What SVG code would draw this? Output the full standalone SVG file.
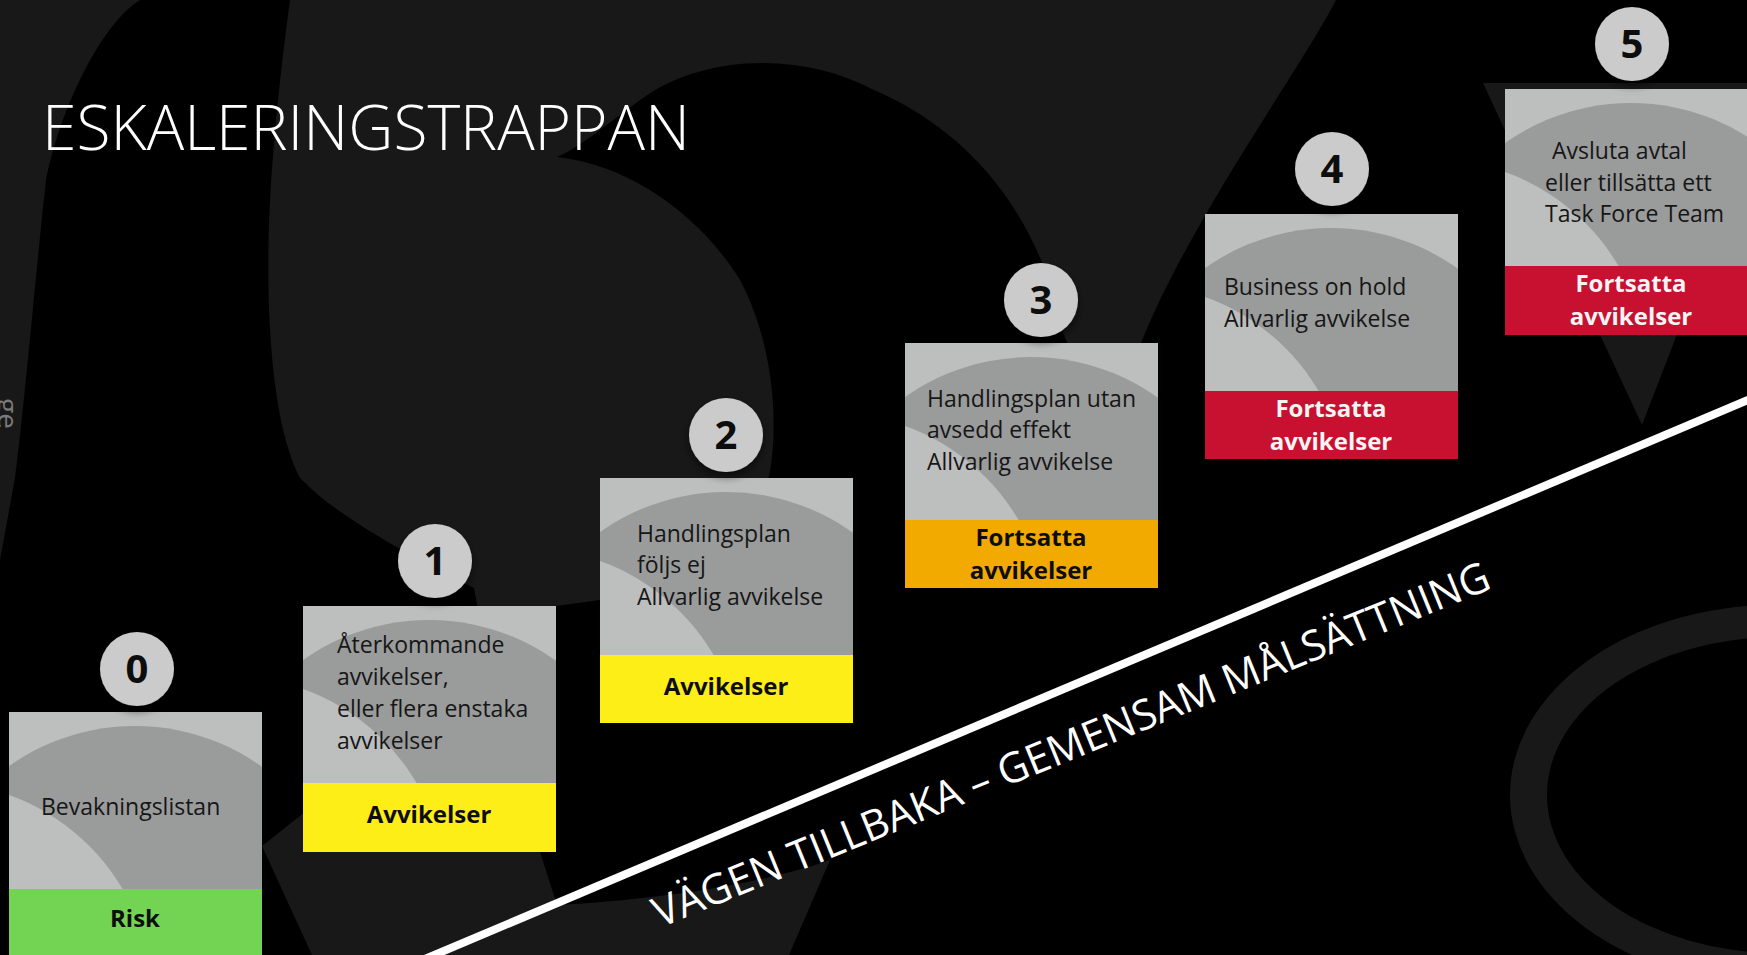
<svg xmlns="http://www.w3.org/2000/svg" xmlns:xlink="http://www.w3.org/1999/xlink" width="1747" height="955" viewBox="0 0 1747 955">
  <style>
    .bgshape { fill: #181818; }
    .circ { fill: #cbcbcb; filter: url(#shadow); }
    .num { font-family: "Open Sans", "Liberation Sans", sans-serif; font-weight: 700; font-size: 40px; fill: #0d0d0d; text-anchor: middle; }
    .body { font-family: "Open Sans", "Liberation Sans", sans-serif; font-size: 23px; fill: #161616; }
    .lbl { font-family: "Open Sans", "Liberation Sans", sans-serif; font-weight: 700; font-size: 24px; fill: #0d0d0d; text-anchor: middle; }
    .lblw { fill: #f4f4f4; }
    .green { fill: #73d454; }
    .yellow { fill: #feee17; }
    .orange { fill: #f3aa00; }
    .red { fill: #c81030; }
  </style>
  <defs>
    <filter id="shadow" x="-40%" y="-40%" width="180%" height="190%">
      <feDropShadow dx="0" dy="5" stdDeviation="4" flood-color="#000" flood-opacity="0.55"/>
    </filter>
    <symbol id="cardbg" viewBox="0 0 253 177">
      <rect width="253" height="177" fill="#bdbebe"/>
      <circle cx="126" cy="232" r="218" fill="#9a9b9b"/>
      <circle cx="-74" cy="288" r="218" fill="#bdbebe"/>
    </symbol>
  </defs>

  <rect width="1747" height="955" fill="#000"/>

  <g id="background">
    <path class="bgshape" d="M0,0 L140,0 C100,25 60,110 46,180 C35,280 25,400 15,478 L0,560 Z"/>
    <path class="bgshape" d="M290,0 L1336,0 C1300,70 1190,220 1141,343 L1110,440 L1063,333 C1045,240 990,140 874,90 C800,50 700,55 640,100 C600,130 575,150 557,157 C630,165 700,215 740,280 C772,340 780,420 769,477 L700,560 L600,600 L556,606 L540,852 L557,905 C650,900 760,885 830,860 L789,955 L312,955 L262,846 L320,800 L480,620 L474,588 C420,560 340,520 300,478 C270,420 265,300 270,200 C275,120 282,60 290,0 Z"/>
    <path class="bgshape" d="M1483,83 L1774,83 L1642,425 Z"/>
    <path class="bgshape" fill-rule="evenodd" d="M1510,795 A265,190 0 1,0 2040,795 A265,190 0 1,0 1510,795 Z M1547,795 A232,158 0 1,0 2011,795 A232,158 0 1,0 1547,795 Z"/>
    <text transform="translate(-2,398) rotate(90)" font-family="Open Sans, Liberation Sans, sans-serif" font-size="28" fill="#7a7a7a">ge</text>
  </g>

  <g id="title">
    <text x="42" y="150" font-family="Open Sans, Liberation Sans, sans-serif" font-weight="300" font-size="63" fill="#ffffff" textLength="648" lengthAdjust="spacingAndGlyphs">ESKALERINGSTRAPPAN</text>
  </g>

  <g id="road">
    <line x1="420" y1="961" x2="1755" y2="397" stroke="#ffffff" stroke-width="8"/>
    <text transform="translate(660,928) rotate(-22.2)" font-family="Open Sans, Liberation Sans, sans-serif" font-size="42" fill="#ffffff" textLength="900" lengthAdjust="spacingAndGlyphs">VÄGEN TILLBAKA – GEMENSAM MÅLSÄTTNING</text>
  </g>

  <g id="step0">
    <use href="#cardbg" x="9" y="712" width="253" height="177"/>
    <rect class="green" x="9" y="889" width="253" height="70"/>
    <circle class="circ" cx="137" cy="669" r="37"/>
    <text class="num" x="137" y="683">0</text>
    <text class="body" x="41" y="815">Bevakningslistan</text>
    <text class="lbl" x="135" y="927">Risk</text>
  </g>

  <g id="step1">
    <use href="#cardbg" x="303" y="606" width="253" height="177"/>
    <rect class="yellow" x="303" y="783" width="253" height="69"/>
    <circle class="circ" cx="435" cy="561" r="37"/>
    <text class="num" x="435" y="575">1</text>
    <text class="body" x="337" y="653">Återkommande</text>
    <text class="body" x="337" y="685">avvikelser,</text>
    <text class="body" x="337" y="717">eller flera enstaka</text>
    <text class="body" x="337" y="749">avvikelser</text>
    <text class="lbl" x="429" y="823">Avvikelser</text>
  </g>

  <g id="step2">
    <use href="#cardbg" x="600" y="478" width="253" height="177"/>
    <rect class="yellow" x="600" y="655" width="253" height="68"/>
    <circle class="circ" cx="726" cy="435" r="37"/>
    <text class="num" x="726" y="449">2</text>
    <text class="body" x="637" y="542">Handlingsplan</text>
    <text class="body" x="637" y="573">följs ej</text>
    <text class="body" x="637" y="605">Allvarlig avvikelse</text>
    <text class="lbl" x="726" y="695">Avvikelser</text>
  </g>

  <g id="step3">
    <use href="#cardbg" x="905" y="343" width="253" height="177"/>
    <rect class="orange" x="905" y="520" width="253" height="68"/>
    <circle class="circ" cx="1041" cy="300" r="37"/>
    <text class="num" x="1041" y="314">3</text>
    <text class="body" x="927" y="407">Handlingsplan utan</text>
    <text class="body" x="927" y="438">avsedd effekt</text>
    <text class="body" x="927" y="470">Allvarlig avvikelse</text>
    <text class="lbl" x="1031" y="546">Fortsatta</text>
    <text class="lbl" x="1031" y="579">avvikelser</text>
  </g>

  <g id="step4">
    <use href="#cardbg" x="1205" y="214" width="253" height="177"/>
    <rect class="red" x="1205" y="391" width="253" height="68"/>
    <circle class="circ" cx="1332" cy="169" r="37"/>
    <text class="num" x="1332" y="183">4</text>
    <text class="body" x="1224" y="295">Business on hold</text>
    <text class="body" x="1224" y="327">Allvarlig avvikelse</text>
    <text class="lbl lblw" x="1331" y="417">Fortsatta</text>
    <text class="lbl lblw" x="1331" y="450">avvikelser</text>
  </g>

  <g id="step5">
    <use href="#cardbg" x="1505" y="89" width="253" height="177"/>
    <rect class="red" x="1505" y="266" width="253" height="69"/>
    <circle class="circ" cx="1632" cy="44" r="37"/>
    <text class="num" x="1632" y="58">5</text>
    <text class="body" x="1552" y="159">Avsluta avtal</text>
    <text class="body" x="1545" y="191">eller tillsätta ett</text>
    <text class="body" x="1545" y="222">Task Force Team</text>
    <text class="lbl lblw" x="1631" y="292">Fortsatta</text>
    <text class="lbl lblw" x="1631" y="325">avvikelser</text>
  </g>
</svg>
